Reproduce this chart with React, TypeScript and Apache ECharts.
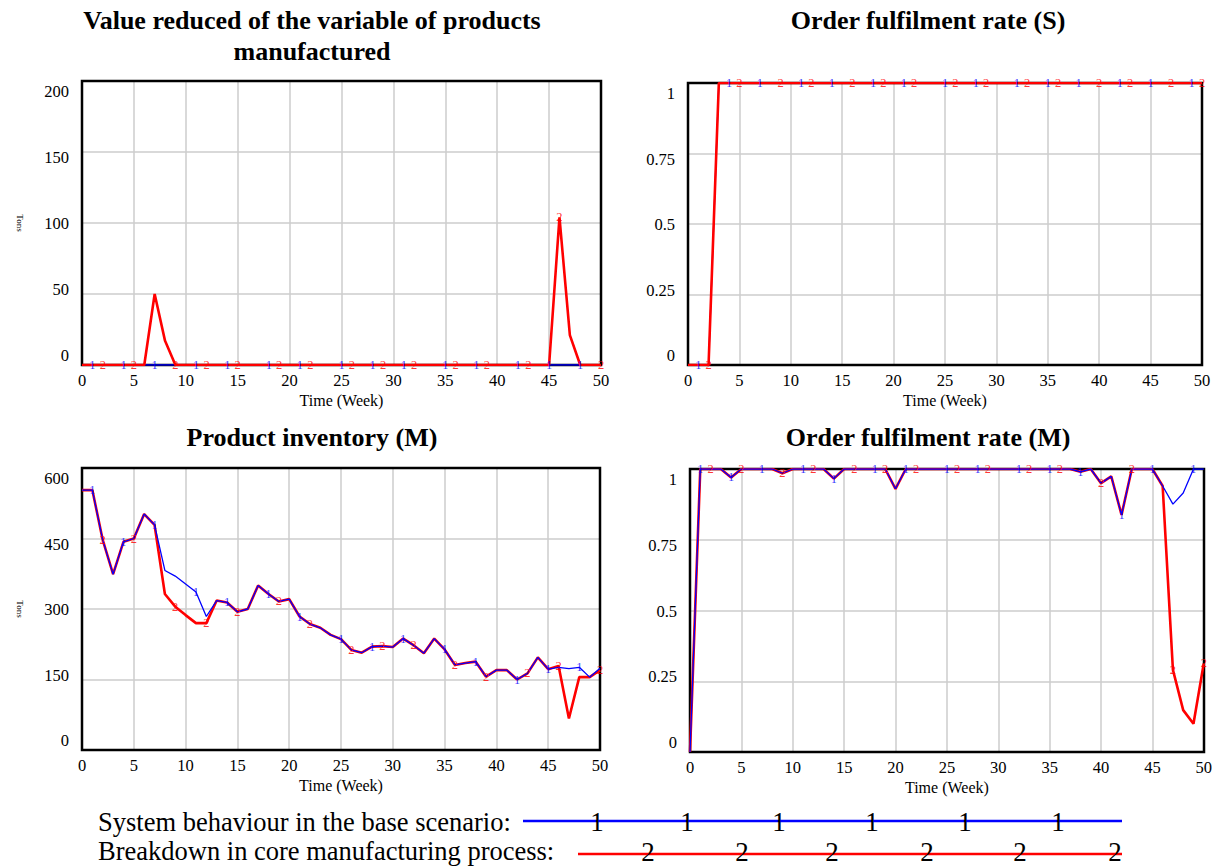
import React, { useEffect, useRef } from "react";
import * as echarts from "echarts";

// ---------- data ----------
const WEEKS = [0,1,2,3,4,5,6,7,8,9,10,11,12,13,14,15,16,17,18,19,20,21,22,23,24,25,26,27,28,29,30,31,32,33,34,35,36,37,38,39,40,41,42,43,44,45,46,47,48,49,50];

// Value reduced of the variable of products manufactured (Tons)
const REDUCED_BASE = [0,0,0,0,0,0,0,0,0,0,0,0,0,0,0,0,0,0,0,0,0,0,0,0,0,0,0,0,0,0,0,0,0,0,0,0,0,0,0,0,0,0,0,0,0,0,0,0,0,0,0];
const REDUCED_BREAKDOWN = [0,0,0,0,0,0,0,50,17,0,0,0,0,0,0,0,0,0,0,0,0,0,0,0,0,0,0,0,0,0,0,0,0,0,0,0,0,0,0,0,0,0,0,0,0,0,104,21,0,0,0];

// Order fulfilment rate (S)
const FULFIL_S_BASE = [0,0,0,1,1,1,1,1,1,1,1,1,1,1,1,1,1,1,1,1,1,1,1,1,1,1,1,1,1,1,1,1,1,1,1,1,1,1,1,1,1,1,1,1,1,1,1,1,1,1,1];
const FULFIL_S_BREAKDOWN = [0,0,0,1,1,1,1,1,1,1,1,1,1,1,1,1,1,1,1,1,1,1,1,1,1,1,1,1,1,1,1,1,1,1,1,1,1,1,1,1,1,1,1,1,1,1,1,1,1,1,1];

// Product inventory (M) (Tons)
const INVENTORY_BASE = [553,553,447,374,443,450,502,479,382,370,353,336,284,318,314,294,300,350,332,316,321,284,268,260,245,236,213,207,220,221,219,237,223,206,237,214,181,185,188,156,170,170,150,163,197,172,176,173,176,155,174];
const INVENTORY_BREAKDOWN = [553,553,447,374,443,450,502,479,332,305,287,270,270,318,314,294,300,350,332,316,321,284,268,260,245,236,213,207,220,221,219,237,223,206,237,214,181,185,188,156,170,170,150,163,197,172,179,67,155,155,170];

// Order fulfilment rate (M)
const FULFIL_M_BASE = [0,1,1,1,0.97,1,1,1,1,0.985,1,1,1,1,0.966,1,1,1,1,1,0.93,1,1,1,1,1,1,1,1,1,1,1,1,1,1,1,1,1,0.99,1,0.95,0.974,0.838,1,1,1,0.94,0.876,0.915,1,1];
const FULFIL_M_BREAKDOWN = [0,1,1,1,0.97,1,1,1,1,0.985,1,1,1,1,0.966,1,1,1,1,1,0.93,1,1,1,1,1,1,1,1,1,1,1,1,1,1,1,1,1,0.99,1,0.95,0.974,0.838,1,1,1,0.94,0.29,0.148,0.1,0.313];

// Week indices where the "1" / "2" line markers sit
const MARK1_LEFT = [1,4,7,11,14,18,21,25,28,31,35,38,42,45,48];
const MARK2_LEFT = [2,5,9,12,15,19,22,26,29,32,36,39,43,46,50];
const MARK1_RIGHT = [1,4,7,11,14,18,21,25,28,32,35,38,42,45,49];
const MARK2_RIGHT = [2,5,9,12,16,19,22,26,29,33,36,40,43,47,50];

const X_TICKS = ["0","5","10","15","20","25","30","35","40","45","50"];
const Y_TICKS_REDUCED = ["0","50","100","150","200"];
const Y_TICKS_RATE = ["0","0.25","0.5","0.75","1"];
const Y_TICKS_INVENTORY = ["0","150","300","450","600"];

const TITLES = [
  "Value reduced of the variable of products\nmanufactured",
  "Order fulfilment rate (S)",
  "Product inventory (M)",
  "Order fulfilment rate (M)",
];
const X_NAME = "Time (Week)";
const Y_NAME = "Tons";
const LEGEND_1 = "System behaviour in the base scenario:";
const LEGEND_2 = "Breakdown in core manufacturing process:";

// ---------- styling / layout ----------
const FONT = "'Liberation Serif', 'Times New Roman', Times, serif";
const BLUE = "#0000ff";
const RED = "#ff0000";
const GRID_COLOR = "#cccccc";

const PANELS = [
  { grid: { left: 82, top: 81, width: 519, height: 284 }, min: 0, max: 200, interval: 50, ticks: Y_TICKS_REDUCED, yName: true, base: REDUCED_BASE, brk: REDUCED_BREAKDOWN, m1: MARK1_LEFT, m2: MARK2_LEFT, title: TITLES[0], titleX: 312, titleTop: 4.5, blueTop: false },
  { grid: { left: 688, top: 83, width: 514, height: 282 }, min: 0, max: 1, interval: 0.25, ticks: Y_TICKS_RATE, yName: false, base: FULFIL_S_BASE, brk: FULFIL_S_BREAKDOWN, m1: MARK1_RIGHT, m2: MARK2_RIGHT, title: TITLES[1], titleX: 928, titleTop: 4.5, blueTop: false },
  { grid: { left: 82, top: 468, width: 518, height: 282 }, min: 0, max: 600, interval: 150, ticks: Y_TICKS_INVENTORY, yName: true, base: INVENTORY_BASE, brk: INVENTORY_BREAKDOWN, m1: MARK1_LEFT, m2: MARK2_LEFT, title: TITLES[2], titleX: 312, titleTop: 421.5, blueTop: true },
  { grid: { left: 690, top: 469, width: 514, height: 283 }, min: 0, max: 1, interval: 0.25, ticks: Y_TICKS_RATE, yName: false, base: FULFIL_M_BASE, brk: FULFIL_M_BREAKDOWN, m1: MARK1_RIGHT, m2: MARK2_RIGHT, title: TITLES[3], titleX: 928, titleTop: 421.5, blueTop: true },
];

function yLabel(ticks: string[], min: number, interval: number) {
  const n = ticks.length - 1;
  const rich: Record<string, any> = {};
  ticks.forEach((_, i) => {
    const f = 1 - i / n;
    const d = 10.5 - 20 * f;
    rich["k" + i] = {
      fontFamily: FONT,
      fontSize: 16.5,
      color: "#000",
      padding: d >= 0 ? [2 * d, 0, 0, 0] : [0, 0, -2 * d, 0],
    };
  });
  return {
    margin: 13,
    rich,
    formatter: (v: number) => {
      const i = Math.round((v - min) / interval);
      return "{k" + i + "|" + ticks[i] + "}";
    },
  };
}

function buildOption() {
  const grid: any[] = [];
  const xAxis: any[] = [];
  const yAxis: any[] = [];
  const series: any[] = [];
  const title: any[] = [];
  const graphic: any[] = [];

  PANELS.forEach((p, i) => {
    grid.push({ ...p.grid, show: false, containLabel: false });
    // black plot frame drawn above the grid lines but under the series
    graphic.push({
      type: "rect",
      z: 1,
      silent: true,
      shape: { x: p.grid.left, y: p.grid.top, width: p.grid.width, height: p.grid.height },
      style: { fill: "none", stroke: "#000", lineWidth: 2.5 },
    });
    xAxis.push({
      gridIndex: i,
      type: "value",
      min: 0,
      max: 50,
      interval: 5,
      axisLine: { show: false },
      axisTick: { show: false },
      splitLine: { show: true, showMinLine: false, showMaxLine: false, lineStyle: { color: GRID_COLOR, width: 1.5 } },
      axisLabel: {
        margin: 7,
        fontFamily: FONT,
        fontSize: 16.5,
        color: "#000",
        showMinLabel: true,
        showMaxLabel: true,
        formatter: (v: number) => X_TICKS[Math.round(v / 5)],
      },
      name: X_NAME,
      nameLocation: "middle",
      nameGap: 27,
      nameTextStyle: { fontFamily: FONT, fontSize: 16, color: "#000" },
    });
    yAxis.push({
      gridIndex: i,
      type: "value",
      min: p.min,
      max: p.max,
      interval: p.interval,
      axisLine: { show: false },
      axisTick: { show: false },
      splitLine: { show: true, showMinLine: false, showMaxLine: false, lineStyle: { color: GRID_COLOR, width: 1.5 } },
      axisLabel: { ...yLabel(p.ticks, p.min, p.interval), showMinLabel: true, showMaxLabel: true },
      name: p.yName ? Y_NAME : "",
      nameLocation: "middle",
      nameRotate: -90,
      nameGap: 58,
      nameTextStyle: { fontFamily: FONT, fontSize: 9, color: "#000" },
    });
    title.push({
      text: p.title,
      left: p.titleX,
      top: p.titleTop,
      textAlign: "center",
      padding: 0,
      textStyle: { fontFamily: FONT, fontSize: 26, fontWeight: "bold", color: "#000", lineHeight: 31 },
    });

    const redZ = p.blueTop ? 2 : 3;
    const blueZ = p.blueTop ? 3 : 2;
    series.push({
      type: "line",
      xAxisIndex: i,
      yAxisIndex: i,
      data: WEEKS.map((w, j) => [w, p.brk[j]]),
      symbol: "none",
      lineStyle: { color: RED, width: 2.6 },
      itemStyle: { color: RED },
      z: redZ,
      silent: true,
    });
    series.push({
      type: "line",
      xAxisIndex: i,
      yAxisIndex: i,
      data: WEEKS.map((w, j) => [w, p.base[j]]),
      symbol: "none",
      lineStyle: { color: BLUE, width: 1.3 },
      itemStyle: { color: BLUE },
      z: blueZ,
      silent: true,
    });
    const markSeries = (idx: number[], vals: number[], txt: string, color: string) => ({
      type: "scatter",
      xAxisIndex: i,
      yAxisIndex: i,
      data: idx.map((j) => [WEEKS[j], vals[j]]),
      symbol: "circle",
      symbolSize: 1,
      itemStyle: { color: "rgba(0,0,0,0)" },
      label: { show: true, position: "inside", formatter: txt, color, fontSize: 12.5, fontFamily: FONT },
      clip: false,
      z: 5,
      silent: true,
    });
    series.push(markSeries(p.m1, p.base, "1", BLUE));
    series.push(markSeries(p.m2, p.brk, "2", RED));
  });

  const legendFont = "26.5px " + FONT;
  const digitFont = "27px " + FONT;
  graphic.push(
    { type: "text", x: 98, y: 822, style: { text: LEGEND_1, font: legendFont, fill: "#000", verticalAlign: "middle", align: "left" } },
    { type: "line", shape: { x1: 523, y1: 821, x2: 1122, y2: 821 }, style: { stroke: BLUE, lineWidth: 2.5 } },
    { type: "text", x: 98, y: 851, style: { text: LEGEND_2, font: legendFont, fill: "#000", verticalAlign: "middle", align: "left" } },
    { type: "line", shape: { x1: 578, y1: 854, x2: 1122, y2: 854 }, style: { stroke: RED, lineWidth: 2.5 } }
  );
  [597, 687, 779, 872, 965, 1058].forEach((x) =>
    graphic.push({ type: "text", x, y: 822, z: 10, style: { text: "1", font: digitFont, fill: "#000", align: "center", verticalAlign: "middle" } })
  );
  [648, 742, 832, 927, 1020, 1115].forEach((x) =>
    graphic.push({ type: "text", x, y: 852, z: 10, style: { text: "2", font: digitFont, fill: "#000", align: "center", verticalAlign: "middle" } })
  );

  return {
    animation: false,
    backgroundColor: "#ffffff",
    title,
    grid,
    xAxis,
    yAxis,
    series,
    graphic,
  };
}

export default function App() {
  const ref = useRef<HTMLDivElement>(null);
  useEffect(() => {
    document.body.style.margin = "0";
    if (!ref.current) return;
    const chart = echarts.init(ref.current, undefined, { renderer: "svg" });
    chart.setOption(buildOption() as any);
    return () => chart.dispose();
  }, []);
  return <div ref={ref} style={{ width: 1215, height: 867 }} />;
}
